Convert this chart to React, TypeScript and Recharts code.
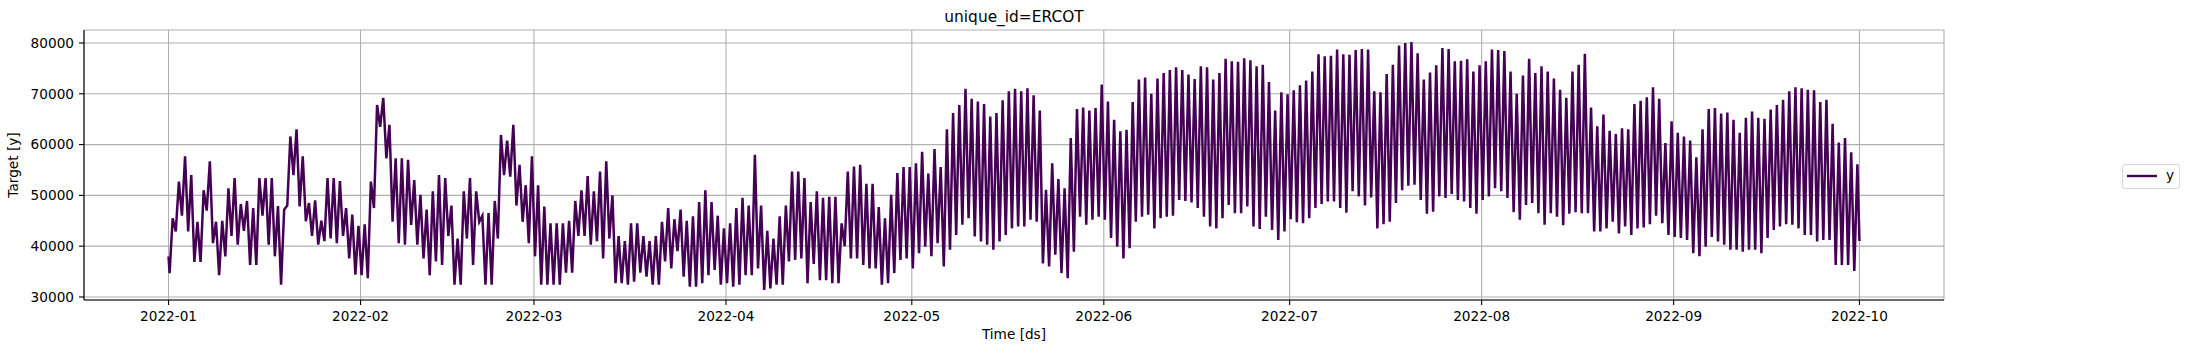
import { LineChart, Line, XAxis, YAxis, CartesianGrid, Legend } from "recharts";

const startDate = "2022-01-01";
const firstValue = 38000;
const lastValue = 41000;

const dailyTroughs = [
  34700, 42900, 46000, 42900, 36900, 36900, 47000, 40600, 34300, 38000,
  42000, 40300, 43000, 36300, 36300, 46000, 40300, 38000, 32400, 48000,
  54000, 47800, 44900, 42000, 40300, 41000, 41500, 40600, 42000, 37600,
  34400, 34300, 33700, 47500, 63500, 57300, 44800, 40600, 40300, 44200,
  40300, 37600, 34300, 37000, 36300, 42000, 32400, 32400, 41500, 36300,
  44800, 32400, 32400, 41500, 54000, 53700, 48000, 44800, 40600, 38000,
  32400, 32400, 32400, 32400, 34800, 34800, 42000, 42000, 40300, 41000,
  37600, 41500, 32700, 32700, 32400, 33000, 34800, 34000, 32400, 32400,
  37000, 35600, 39000, 34000, 32000, 32000, 32700, 34300, 35300, 32400,
  32700, 32000, 32400, 34300, 34300, 35600, 31400, 31700, 32400, 32400,
  37000, 37300, 37600, 32700, 36500, 33300, 33300, 32700, 32700, 40000,
  37600, 37600, 36300, 35600, 35600, 32400, 32700, 34700, 37300, 37600,
  35600, 38600, 39900, 38000, 40600, 36000, 39300, 42200, 44200, 45500,
  41900, 40900, 40300, 39300, 40900, 42200, 43500, 43900, 43900, 45200,
  44800, 36600, 36000, 38300, 34700, 33700, 38900, 45800, 44200, 45200,
  45800, 45200, 41600, 39900, 37600, 39600, 44800, 45800, 46200, 43500,
  45500, 45800, 46000, 49100, 48900, 48600, 47500, 45800, 43900, 43500,
  45500, 48100, 46500, 46500, 47800, 43900, 43400, 45800, 43200, 41200,
  42900, 45300, 44700, 44500, 45500, 47500, 48300, 48800, 48800, 47500,
  46600, 50800, 49800, 48000, 49600, 43500, 44300, 44800, 48500, 51000,
  51900, 52100, 49100, 46400, 46800, 49800, 49500, 50300, 49100, 48800,
  47500, 46400, 49100, 49800, 51400, 50800, 49500, 46700, 45200, 48100,
  48500, 46500, 44200, 46500, 45800, 44100, 46400, 46700, 46500, 46500,
  42900, 42900, 43500, 44800, 42500, 43900, 42200, 43500, 43700, 44300,
  46000, 44500, 42200, 41800, 41600, 41200, 38600, 38000, 39900, 41800,
  40900, 40300, 39300, 39300, 38900, 39300, 39300, 38600, 41600, 43200,
  43900, 44300, 44200, 43500, 42200, 42200, 40900, 41200, 41200, 36300,
  36300, 36300, 35100,
];

const dailyPeaks = [
  45500, 52700, 57700, 54000, 44800, 51000, 56700, 44800, 45000, 51400,
  53400, 48300, 48900, 47500, 53400, 53400, 53400, 47900, 47200, 61600,
  63000, 57700, 48500, 49000, 45000, 53400, 53400, 52800, 47500, 46200,
  44000, 44300, 52700, 67800, 69200, 63900, 57300, 57300, 57000, 53000,
  50100, 47200, 50800, 54000, 53400, 48000, 41500, 50800, 53400, 50800,
  46000, 46500, 48900, 61900, 60800, 63900, 56000, 52000, 57700, 52000,
  47800, 44500, 44500, 44500, 45000, 48900, 51000, 53800, 50800, 54700,
  56700, 50000, 42000, 41000, 44500, 44500, 42000, 41000, 42000, 44800,
  47500, 45300, 47200, 45000, 45900, 48700, 51000, 48700, 46000, 43500,
  44500, 47500, 49500, 48000, 58000, 48000, 43000, 41500, 45900, 48000,
  54700, 54700, 53400, 48700, 50800, 49500, 49700, 49700, 44500, 54700,
  55700, 56000, 52300, 52300, 47700, 45500, 50100, 54400, 55600, 55600,
  56300, 58600, 54300, 59100, 55600, 63000, 66200, 67800, 71000, 69000,
  68500, 68000, 65500, 66200, 68700, 70500, 71000, 70500, 71100, 69700,
  66700, 51100, 56300, 53200, 51400, 61300, 67000, 67300, 66700, 67200,
  71800, 68500, 64900, 62600, 62900, 68400, 72800, 73200, 70000, 73000,
  74100, 74700, 75200, 74700, 73800, 72900, 75400, 75200, 72800, 74100,
  76900, 76400, 76300, 77000, 76600, 75400, 75700, 72300, 66700, 70300,
  69900, 70700, 71700, 72600, 74400, 77800, 77400, 77500, 78700, 77800,
  77700, 78600, 78800, 78700, 70500, 70300, 73900, 75700, 79500, 80000,
  80200, 78000, 72800, 74200, 75600, 79000, 78800, 76400, 76500, 76800,
  74400, 75600, 76400, 78700, 78600, 78400, 74400, 70000, 73600, 76900,
  74100, 75400, 74400, 73000, 70800, 69200, 74400, 75700, 77900, 67300,
  63600, 65900, 62700, 62100, 63200, 63000, 68000, 68600, 69300, 71300,
  69000, 60300, 64600, 62300, 61600, 60800, 57500, 63000, 67000, 67200,
  66100, 66300, 64900, 62300, 65300, 66500, 65300, 65100, 66900, 67800,
  68800, 70500, 71300, 71100, 70800, 70700, 68400, 68800, 64100, 60400,
  61300, 58500, 56100,
];

const monthTicks = [
  "2022-01", "2022-02", "2022-03", "2022-04", "2022-05",
  "2022-06", "2022-07", "2022-08", "2022-09", "2022-10",
];
const yTicks = [30000, 40000, 50000, 60000, 70000, 80000];

const HOUR = 3600000;
const DAY = 24 * HOUR;
const t0 = Date.parse(startDate + "T00:00:00Z");

interface Point {
  ds: number;
  y: number;
}

// night-time low, then the afternoon high
const data: Point[] = [{ ds: t0, y: firstValue }];
dailyTroughs.forEach((lo, i) => {
  data.push({ ds: t0 + i * DAY + 4 * HOUR, y: lo });
  data.push({ ds: t0 + i * DAY + 16 * HOUR, y: dailyPeaks[i] });
});
data.push({ ds: t0 + dailyTroughs.length * DAY, y: lastValue });

// matplotlib-style 5% margins on the time axis
const xFirst = data[0].ds;
const xLast = data[data.length - 1].ds;
const xPad = (xLast - xFirst) * 0.05;
const xDomain = [xFirst - xPad, xLast + xPad];
const yDomain = [29400, 82560];

const monthTickValues = monthTicks.map((m) => Date.parse(m + "-01T00:00:00Z"));

const formatMonth = (ms: number) => {
  const d = new Date(ms);
  return `${d.getUTCFullYear()}-${String(d.getUTCMonth() + 1).padStart(2, "0")}`;
};

const FONT = "DejaVu Sans, sans-serif";
const LINE_COLOR = "#440154";
const tickStyle = { fill: "#000", fontSize: 13.65, fontFamily: FONT };

const PLOT = { left: 84, top: 30, right: 242, bottom: 53 };

function LegendBox({ payload }: any) {
  const item = payload && payload[0];
  return (
    <div
      style={{
        position: "relative",
        boxSizing: "border-box",
        width: 58,
        height: 25,
        border: "1px solid #d6d6d6",
        borderRadius: 3,
        background: "#fff",
        fontFamily: FONT,
        fontSize: 13.65,
        color: "#000",
      }}
    >
      <svg width={58} height={25} style={{ position: "absolute", left: 0, top: 0 }}>
        <line x1={4} x2={34} y1={11} y2={11} stroke={item ? item.color : LINE_COLOR} strokeWidth={2.4} />
      </svg>
      <span style={{ position: "absolute", left: 43, top: 2, lineHeight: "16px" }}>
        {item ? item.value : "y"}
      </span>
    </div>
  );
}

export default function App() {
  return (
    <div style={{ position: "absolute", left: 0, top: 0, width: 2186, height: 353, background: "#fff" }}>
      <div
        style={{
          position: "absolute",
          left: PLOT.left,
          top: 8.4,
          width: 2186 - PLOT.left - PLOT.right,
          textAlign: "center",
          fontFamily: FONT,
          fontSize: 15.4,
          lineHeight: "18px",
          color: "#000",
          whiteSpace: "nowrap",
        }}
      >
        unique_id=ERCOT
      </div>
      <LineChart
        width={2186}
        height={353}
        data={data}
        margin={{ top: PLOT.top, right: PLOT.right, bottom: 0, left: 0 }}
      >
        <CartesianGrid stroke="#b0b0b0" strokeWidth={1.1} />
        <XAxis
          dataKey="ds"
          type="number"
          domain={xDomain}
          ticks={monthTickValues}
          interval={0}
          tickFormatter={formatMonth}
          height={PLOT.bottom}
          stroke="#000"
          strokeWidth={1.1}
          tickSize={5}
          tickMargin={6.5}
          tick={tickStyle}
          allowDataOverflow
          label={{
            value: "Time [ds]",
            position: "insideBottom",
            offset: 14.5,
            fill: "#000",
            fontSize: 13.65,
            fontFamily: FONT,
          }}
        />
        <XAxis
          xAxisId="top"
          orientation="top"
          type="number"
          domain={xDomain}
          height={0}
          stroke="#000"
          strokeWidth={1.1}
          tick={false}
          tickLine={false}
        />
        <YAxis
          type="number"
          domain={yDomain}
          ticks={yTicks}
          interval={0}
          width={PLOT.left}
          stroke="#000"
          strokeWidth={1.1}
          tickSize={5}
          tickMargin={5}
          tick={tickStyle}
          allowDataOverflow
          label={{
            content: (props: any) => {
              const vb = props.viewBox;
              const cx = 18.3;
              const cy = vb.y + vb.height / 2;
              return (
                <text
                  x={cx}
                  y={cy}
                  transform={`rotate(-90 ${cx} ${cy})`}
                  textAnchor="middle"
                  fill="#000"
                  fontSize={13.65}
                  fontFamily={FONT}
                >
                  Target [y]
                </text>
              );
            },
          }}
        />
        <YAxis
          yAxisId="right"
          orientation="right"
          type="number"
          domain={yDomain}
          width={0}
          stroke="#000"
          strokeWidth={1.1}
          tick={false}
          tickLine={false}
        />
        <Line
          type="linear"
          dataKey="y"
          name="y"
          stroke={LINE_COLOR}
          strokeWidth={2.5}
          dot={false}
          activeDot={false}
          isAnimationActive={false}
        />
        <Legend
          layout="horizontal"
          align="center"
          verticalAlign="middle"
          content={<LegendBox />}
          wrapperStyle={{ left: 2122, top: 164, width: 58, height: 25 }}
        />
      </LineChart>
    </div>
  );
}
